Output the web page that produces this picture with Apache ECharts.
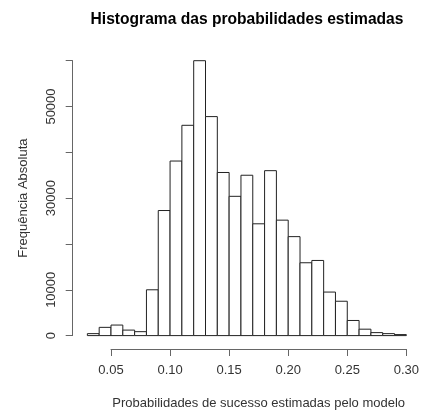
<!DOCTYPE html>
<html>
<head>
<meta charset="utf-8">
<script src="https://cdn.jsdelivr.net/npm/echarts@6/dist/echarts.min.js"></script>
<style>
  html, body { margin: 0; padding: 0; background: #fff; }
  #chart { width: 422px; height: 415px; }
</style>
</head>
<body>
<div id="chart"></div>
<script>
// Bin edges of the histogram (width 0.01)
const binEdges = [0.03, 0.04, 0.05, 0.06, 0.07, 0.08, 0.09, 0.10, 0.11, 0.12,
  0.13, 0.14, 0.15, 0.16, 0.17, 0.18, 0.19, 0.20, 0.21, 0.22,
  0.23, 0.24, 0.25, 0.26, 0.27, 0.28, 0.29, 0.30];
// Absolute frequency of each bin
const counts = [430, 1800, 2300, 1200, 860, 10000, 27300, 38100, 45900, 60000,
  47800, 35600, 30400, 35000, 24400, 36000, 25200, 21600, 15900, 16400,
  9500, 7500, 3300, 1400, 650, 430, 220];
// Axis ticks
const xTicks = [0.05, 0.10, 0.15, 0.20, 0.25, 0.30];
const yTicks = [0, 10000, 20000, 30000, 40000, 50000, 60000];
const yLabelsShown = [0, 10000, 30000, 50000];

const bins = counts.map((c, i) => [binEdges[i], binEdges[i + 1], c]);

const font = '"Liberation Sans", Arial, sans-serif';
const axisColor = '#666';

const chart = echarts.init(document.getElementById('chart'), null, { renderer: 'canvas' });
chart.setOption({
  backgroundColor: '#fff',
  animation: false,
  title: {
    text: 'Histograma das probabilidades estimadas',
    left: 242, top: 7, textAlign: 'center',
    textStyle: { fontFamily: font, fontSize: 15.6, fontWeight: 'bold', color: '#000' }
  },
  grid: { left: 111, right: 12.7, top: 60.7, bottom: 75.7 },
  xAxis: {
    type: 'value',
    min: xTicks[0], max: xTicks[xTicks.length - 1], interval: 0.05,
    offset: 13.4,
    axisLine: { onZero: false, lineStyle: { color: axisColor, width: 1 } },
    axisTick: { length: 7, lineStyle: { color: axisColor } },
    splitLine: { show: false },
    axisLabel: {
      margin: 15, color: '#333', fontFamily: font, fontSize: 13,
      formatter: v => v.toFixed(2), showMinLabel: true, showMaxLabel: true
    },
    name: 'Probabilidades de sucesso estimadas pelo modelo',
    nameLocation: 'middle', nameGap: 48,
    nameTextStyle: { fontFamily: font, fontSize: 13, color: '#333' }
  },
  yAxis: {
    type: 'value',
    min: yTicks[0], max: yTicks[yTicks.length - 1], interval: 10000,
    offset: 38.3,
    axisLine: { show: true, lineStyle: { color: axisColor, width: 1 } },
    axisTick: { show: true, length: 7, lineStyle: { color: axisColor } },
    splitLine: { show: false },
    axisLabel: {
      rotate: 90, margin: 15, color: '#333', fontFamily: font, fontSize: 13,
      formatter: v => yLabelsShown.includes(v) ? String(v) : '',
      showMinLabel: true, showMaxLabel: true
    },
    name: 'Frequência Absoluta',
    nameLocation: 'middle', nameGap: 43, nameRotate: 90,
    nameTextStyle: { fontFamily: font, fontSize: 13, color: '#333' }
  },
  series: [{
    type: 'custom',
    clip: false,
    data: bins,
    renderItem: (params, api) => {
      const p0 = api.coord([api.value(0), 0]);
      const p1 = api.coord([api.value(1), api.value(2)]);
      return {
        type: 'rect',
        shape: { x: p0[0], y: p1[1], width: p1[0] - p0[0], height: p0[1] - p1[1] },
        style: { fill: '#fff', stroke: '#222', lineWidth: 1 }
      };
    }
  }]
});
</script>
</body>
</html>
